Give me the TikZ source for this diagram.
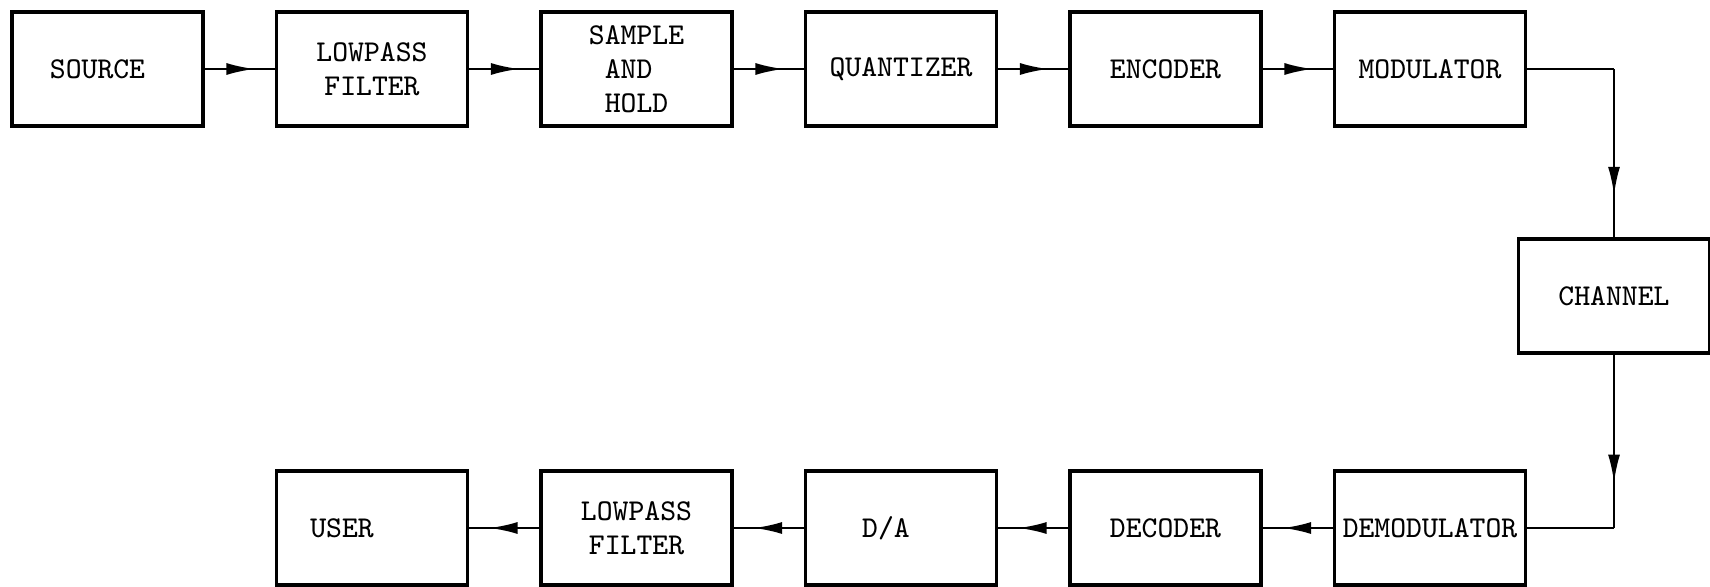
\documentclass[tikz,border=0pt]{standalone}
\usepackage{fontspec}
\usepackage{tikz}
\usetikzlibrary{
  arrows.meta,
  positioning,
  decorations.markings
}
\tikzset{
  % block diagram nodes
  blk/.style={
    rectangle, draw=black, line width=0.9pt,
    minimum width=1.91cm, minimum height=1.14cm,
    align=center, inner sep=2pt, outer sep=0pt,
    font=\ttfamily\fontsize{8.6}{9.6}\selectfont
  },
  link/.style={
    draw=black, line width=0.6pt
  },
  flow/.style={
    link, postaction={decorate},
    decoration={markings,
      mark=at position #1 with {\arrow{Latex[length=0.28cm,width=0.12cm]}}}
  },
  flow/.default=0.7
}

\begin{document}
\begin{tikzpicture}[node distance=0.735cm]
  \useasboundingbox (0,0) rectangle (17.1,5.86);

  % --- Transmitter ---
  \node[blk] (src) at (1.075,5.17) {SOURCE\hspace*{0.2cm}};
  \node[blk, right=of src] (lpf) {LOWPASS\\FILTER};
  \node[blk, right=of lpf, align=left] (sah) {SAMPLE\\~AND\\~HOLD};
  \node[blk, right=of sah] (quant) {QUANTIZER};
  \node[blk, right=of quant] (enc) {ENCODER};
  \node[blk, right=of enc] (mod) {MODULATOR};

  \draw[flow] (src) -- (lpf);
  \draw[flow] (lpf) -- (sah);
  \draw[flow] (sah) -- (quant);
  \draw[flow] (quant) -- (enc);
  \draw[flow] (enc) -- (mod);

  % --- Channel ---
  \node[blk, below right=1.13cm and -0.07cm of mod] (chan) {CHANNEL};
  \coordinate (tc) at (chan.north |- mod.east);
  \draw[link] (mod) -- (tc);
  \draw[flow=0.74] (tc) -- (chan);

  % --- Receiver ---
  \node[blk, below=3.45cm of mod] (demod) {DEMODULATOR};
  \node[blk, left=of demod] (dec) {DECODER};
  \node[blk, left=of dec] (dac) {D/A\hspace*{0.3cm}};
  \node[blk, left=of dac] (lpf2) {LOWPASS\\FILTER};
  \node[blk, left=of lpf2] (user) {USER\hspace*{0.6cm}};

  \coordinate (bc) at (chan.south |- demod.east);
  \draw[flow=0.74] (chan) -- (bc);
  \draw[link] (bc) -- (demod);
  \draw[flow] (demod) -- (dec);
  \draw[flow] (dec) -- (dac);
  \draw[flow] (dac) -- (lpf2);
  \draw[flow] (lpf2) -- (user);

\end{tikzpicture}
\end{document}
